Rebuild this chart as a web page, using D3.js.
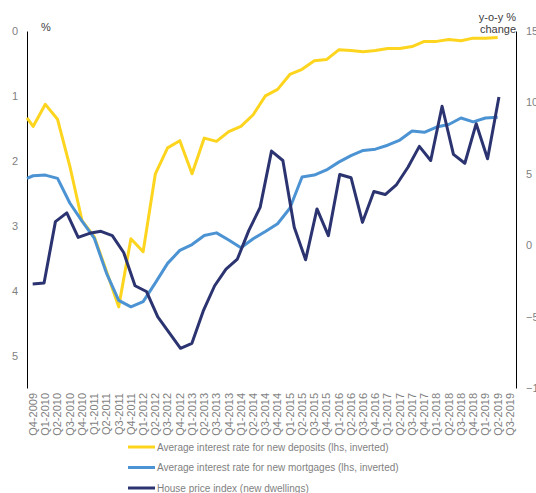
<!DOCTYPE html>
<html>
<head>
<meta charset="utf-8">
<script src="https://cdn.jsdelivr.net/npm/d3@7/dist/d3.min.js"></script>
<style>
body { margin: 0; background: #fff; }
text { font-family: "Liberation Sans", Arial, sans-serif; }
</style>
</head>
<body>
<div id="chart"></div>
<script>
// quarters on the category axis
const quarters = [
    "Q4-2009", "Q1-2010", "Q2-2010", "Q3-2010", "Q4-2010", "Q1-2011", "Q2-2011", "Q3-2011",
    "Q4-2011", "Q1-2012", "Q2-2012", "Q3-2012", "Q4-2012", "Q1-2013", "Q2-2013", "Q3-2013",
    "Q4-2013", "Q1-2014", "Q2-2014", "Q3-2014", "Q4-2014", "Q1-2015", "Q2-2015", "Q3-2015",
    "Q4-2015", "Q1-2016", "Q2-2016", "Q3-2016", "Q4-2016", "Q1-2017", "Q2-2017", "Q3-2017",
    "Q4-2017", "Q1-2018", "Q2-2018", "Q3-2018", "Q4-2018", "Q1-2019", "Q2-2019", "Q3-2019"
];

// lhs series (%), first value sits on the left edge of the plot, then Q4-2009 .. Q2-2019
const depositRate = [
    1.34, 1.47, 1.13, 1.36, 2.08, 2.92, 3.17, 3.70, 4.25, 3.20, 3.40,
    2.20, 1.80, 1.69, 2.20, 1.65, 1.70, 1.55, 1.47, 1.29, 1.00, 0.90,
    0.67, 0.59, 0.46, 0.44, 0.29, 0.30, 0.32, 0.30, 0.27, 0.27, 0.24,
    0.16, 0.16, 0.13, 0.15, 0.11, 0.11, 0.10
];
const mortgageRate = [
    2.27, 2.23, 2.22, 2.27, 2.65, 2.93, 3.19, 3.73, 4.15, 4.25, 4.17,
    3.88, 3.58, 3.38, 3.29, 3.15, 3.11, 3.22, 3.34, 3.20, 3.09, 2.97,
    2.73, 2.25, 2.22, 2.14, 2.02, 1.92, 1.84, 1.82, 1.76, 1.68, 1.54,
    1.56, 1.48, 1.44, 1.34, 1.40, 1.34, 1.33
];

// rhs series, y-o-y % change (own horizontal axis with 43 slots)
const housePrice = [
    -2.72, -2.65, 1.65, 2.26, 0.55, 0.83, 0.97, 0.67, -0.51, -2.84, -3.24,
    -5.02, -6.12, -7.22, -6.87, -4.60, -2.84, -1.67, -0.97, 1.02, 2.65,
    6.59, 5.93, 1.25, -1.02, 2.54, 0.67, 4.95, 4.72, 1.60, 3.76, 3.55,
    4.25, 5.46, 6.92, 5.93, 9.73, 6.36, 5.74, 8.51, 6.05, 10.38
];
const housePriceSlots = 43;

const leftTicks = [0, 1, 2, 3, 4, 5];
const rightTicks = [-10, -5, 0, 5, 10, 15];

const seriesNames = [
    "Average interest rate for new deposits (lhs, inverted)",
    "Average interest rate for new mortgages (lhs, inverted)",
    "House price index (new dwellings)"
];
const colors = ["#FDD51E", "#4C93D3", "#2B3470"];

const width = 536, height = 493;
const plot = { left: 27, right: 516, top: 31, bottom: 388 };

const svg = d3.select("#chart").append("svg")
    .attr("width", width)
    .attr("height", height);

const x = d3.scaleBand().domain(quarters).range([plot.left, plot.right]);
const xR = d3.scaleLinear().domain([-0.5, housePriceSlots - 0.5]).range([plot.left, plot.right]);
const yL = d3.scaleLinear().domain([0, 5.5]).range([plot.top, plot.bottom]);
const yR = d3.scaleLinear().domain([-10, 15]).range([plot.bottom, plot.top]);

// x position of lhs points: edge first, then category centres
const lhsX = i => i === 0 ? x.range()[0] : x(quarters[i - 1]) + x.bandwidth() / 2;

// axes
const axL = svg.append("g")
    .attr("transform", `translate(${plot.left},0)`)
    .call(d3.axisLeft(yL).tickValues(leftTicks).tickSize(0).tickPadding(9).tickFormat(d3.format("d")));
const axR = svg.append("g")
    .attr("transform", `translate(${plot.right},0)`)
    .call(d3.axisRight(yR).tickValues(rightTicks).tickSize(0).tickPadding(10).tickFormat(d3.format("d")));
[axL, axR].forEach(g => {
    g.select(".domain").attr("stroke", "#000").attr("stroke-width", 1);
    g.selectAll("text").attr("fill", "#7f7f7f").style("font-size", "11px")
        .style("font-family", '"Liberation Sans", Arial, sans-serif');
});

// category labels, rotated
svg.append("g").selectAll("text")
    .data(quarters)
    .enter().append("text")
    .attr("transform", d => `translate(${x(d) + x.bandwidth() / 2},393) rotate(-90)`)
    .attr("text-anchor", "end")
    .attr("dy", "0.35em")
    .attr("fill", "#7f7f7f")
    .style("font-size", "11px")
    .text(d => d);

// axis titles
svg.append("text").attr("x", 41).attr("y", 31)
    .attr("fill", "#404040").style("font-size", "11px").text("%");
svg.append("text").attr("x", plot.right).attr("y", 21)
    .attr("text-anchor", "end").attr("fill", "#404040").style("font-size", "11px").text("y-o-y %");
svg.append("text").attr("x", plot.right).attr("y", 33)
    .attr("text-anchor", "end").attr("fill", "#404040").style("font-size", "11px").text("change");

// lines
const lineL = d3.line().x((d, i) => lhsX(i)).y(d => yL(d));
const lineR = d3.line().x((d, i) => xR(i)).y(d => yR(d));

const lines = [
    { data: depositRate, gen: lineL },
    { data: mortgageRate, gen: lineL },
    { data: housePrice, gen: lineR }
];
lines.forEach((s, k) => {
    svg.append("path")
        .attr("d", s.gen(s.data))
        .attr("fill", "none")
        .attr("stroke", colors[k])
        .attr("stroke-width", 3)
        .attr("stroke-linejoin", "round");
});

// legend
const legend = svg.append("g").selectAll("g")
    .data(seriesNames)
    .enter().append("g")
    .attr("transform", (d, i) => `translate(128,${447 + i * 20.5})`);
legend.append("line")
    .attr("x1", 0).attr("x2", 27)
    .attr("stroke", (d, i) => colors[i])
    .attr("stroke-width", 3);
legend.append("text")
    .attr("x", 29)
    .attr("dy", "0.35em")
    .attr("fill", "#7f7f7f")
    .style("font-size", "10px")
    .text(d => d);
</script>
</body>
</html>
